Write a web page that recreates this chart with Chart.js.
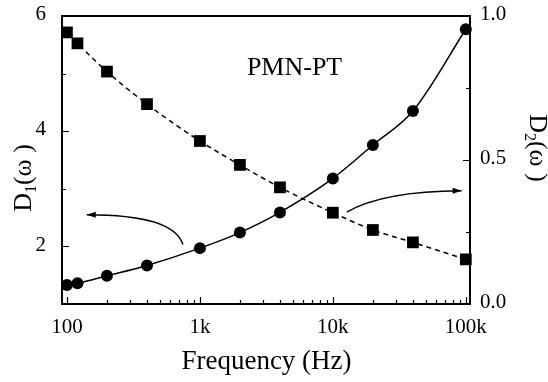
<!DOCTYPE html>
<html>
<head>
<meta charset="utf-8">
<script src="https://cdn.jsdelivr.net/npm/chart.js@4"></script>
<style>
html,body{margin:0;padding:0;background:#fff;}
#wrap{width:548px;height:382px;position:relative;}
</style>
</head>
<body>
<div id="wrap"><canvas id="c" width="548" height="382"></canvas></div>
<script>
// ---- data ----
const freq = [100, 120, 200, 400, 1000, 2000, 4000, 10000, 20000, 40000, 100000];
const d1 = [1.33, 1.36, 1.49, 1.67, 1.97, 2.24, 2.59, 3.18, 3.76, 4.35, 5.77];
const d2 = [0.943, 0.905, 0.807, 0.694, 0.566, 0.483, 0.405, 0.317, 0.257, 0.214, 0.155];
const xTickValues = [100, 1000, 10000, 100000];
const xTickLabels = ['100', '1k', '10k', '100k'];
const y1TickLabels = [2, 4, 6];
const y2TickLabels = [0.0, 0.5, 1.0];
const sampleLabel = 'PMN-PT';
// arrows in data coordinates: [start, control, end]
const arrowLeft = {axis: 'y', pts: [[745, 2.03], [640, 2.55], [141, 2.55]]};
const arrowRight = {axis: 'y2', pts: [[12700, 0.319], [24000, 0.392], [93000, 0.393]]};

const FONT = '"Liberation Serif", "Times New Roman", serif';

const minorX = [];
for (let e = 2; e <= 5; e++) {
  for (let m = 1; m <= 9; m++) {
    const v = m * Math.pow(10, e);
    if (v <= 100000) minorX.push(v);
  }
}

function drawArrow(ctx, chart, a) {
  const xs = chart.scales.x, ys = chart.scales[a.axis];
  const p = a.pts.map(q => [xs.getPixelForValue(q[0]), ys.getPixelForValue(q[1])]);
  ctx.save();
  ctx.strokeStyle = '#000';
  ctx.lineWidth = 1.4;
  ctx.beginPath();
  ctx.moveTo(p[0][0], p[0][1]);
  ctx.quadraticCurveTo(p[1][0], p[1][1], p[2][0], p[2][1]);
  ctx.stroke();
  const ang = Math.atan2(p[2][1] - p[1][1], p[2][0] - p[1][0]);
  const L = 9, W = 3;
  ctx.fillStyle = '#000';
  ctx.beginPath();
  ctx.moveTo(p[2][0], p[2][1]);
  ctx.lineTo(p[2][0] - L * Math.cos(ang) + W * Math.sin(ang), p[2][1] - L * Math.sin(ang) - W * Math.cos(ang));
  ctx.lineTo(p[2][0] - L * Math.cos(ang) - W * Math.sin(ang), p[2][1] - L * Math.sin(ang) + W * Math.cos(ang));
  ctx.closePath();
  ctx.fill();
  ctx.restore();
}

function drawSubTitle(ctx, x, y, rot, main, sub, rest) {
  ctx.save();
  ctx.translate(x, y);
  ctx.rotate(rot);
  ctx.fillStyle = '#000';
  ctx.textBaseline = 'alphabetic';
  const big = '26px ' + FONT, small = '16px ' + FONT;
  ctx.font = big; const w1 = ctx.measureText(main).width;
  const w3 = ctx.measureText(rest).width;
  ctx.font = small; const w2 = ctx.measureText(sub).width;
  const total = w1 + w2 + w3;
  let cx = -total / 2;
  const base = 9;
  ctx.font = big; ctx.textAlign = 'left';
  ctx.fillText(main, cx, base); cx += w1;
  ctx.font = small; ctx.fillText(sub, cx, base + 5); cx += w2;
  ctx.font = big; ctx.fillText(rest, cx, base);
  ctx.restore();
}

const decor = {
  id: 'decor',
  afterDraw(chart) {
    const ctx = chart.ctx, ca = chart.chartArea;
    const xs = chart.scales.x, y1 = chart.scales.y, y2 = chart.scales.y2;
    ctx.save();
    ctx.strokeStyle = '#000';
    ctx.lineWidth = 2;
    ctx.strokeRect(ca.left, ca.top, ca.right - ca.left, ca.bottom - ca.top);
    ctx.lineWidth = 1.2;
    ctx.beginPath();
    minorX.forEach(v => {
      const px = Math.round(xs.getPixelForValue(v)) + 0.5;
      const major = xTickValues.includes(v);
      ctx.moveTo(px, ca.bottom);
      ctx.lineTo(px, ca.bottom - (major ? 7 : 4));
    });
    for (let v = 2; v <= 5; v++) {
      const py = Math.round(y1.getPixelForValue(v)) + 0.5;
      const major = y1TickLabels.includes(v);
      ctx.moveTo(ca.left, py);
      ctx.lineTo(ca.left + (major ? 7 : 4), py);
    }
    [0.25, 0.5, 0.75].forEach(v => {
      const py = Math.round(y2.getPixelForValue(v)) + 0.5;
      const major = Math.abs(v - 0.5) < 1e-9;
      ctx.moveTo(ca.right, py);
      ctx.lineTo(ca.right - (major ? 7 : 4), py);
    });
    ctx.stroke();
    ctx.restore();

    drawArrow(ctx, chart, arrowLeft);
    drawArrow(ctx, chart, arrowRight);

    ctx.save();
    ctx.fillStyle = '#000';
    ctx.font = '26px ' + FONT;
    ctx.textAlign = 'center';
    ctx.textBaseline = 'middle';
    ctx.fillText(sampleLabel, ca.left + (ca.right - ca.left) * 0.57, ca.top + 52);
    ctx.restore();

    drawSubTitle(ctx, 22, 178, -Math.PI / 2, 'D', '1', '(\u03c9 )');
    drawSubTitle(ctx, 539, 148, Math.PI / 2, 'D', '2', '(\u03c9 )');
    ctx.save();
    ctx.fillStyle = '#000';
    ctx.font = '27px ' + FONT;
    ctx.textAlign = 'center';
    ctx.textBaseline = 'middle';
    ctx.fillText('Frequency (Hz)', (ca.left + ca.right) / 2 + 0.5, 362);
    ctx.restore();
  }
};

new Chart(document.getElementById('c'), {
  type: 'line',
  data: {
    datasets: [
      {
        label: 'D1',
        data: freq.map((f, i) => ({x: f, y: d1[i]})),
        yAxisID: 'y',
        borderColor: '#000',
        backgroundColor: '#000',
        borderWidth: 1.5,
        pointStyle: 'circle',
        pointRadius: 6,
        pointBorderWidth: 0,
        cubicInterpolationMode: 'monotone',
        clip: false
      },
      {
        label: 'D2',
        data: freq.map((f, i) => ({x: f, y: d2[i]})),
        yAxisID: 'y2',
        borderColor: '#000',
        backgroundColor: '#000',
        borderWidth: 1.5,
        borderDash: [5, 4],
        pointStyle: 'rect',
        pointRadius: 8.3,
        pointBorderWidth: 0,
        cubicInterpolationMode: 'monotone',
        clip: false
      }
    ]
  },
  options: {
    responsive: false,
    animation: false,
    events: [],
    layout: {padding: {top: 16, left: 0, right: 0, bottom: 0}},
    plugins: {legend: {display: false}, tooltip: {enabled: false}},
    scales: {
      x: {
        type: 'logarithmic',
        min: 91.8,
        max: 107500,
        afterBuildTicks(s) { s.ticks = xTickValues.map(v => ({value: v})); },
        afterFit(s) { s.height = 78; },
        ticks: {
          autoSkip: false,
          maxRotation: 0,
          padding: 3,
          color: '#000',
          font: {family: FONT, size: 21},
          callback(v) { const i = xTickValues.indexOf(v); return i >= 0 ? xTickLabels[i] : ''; }
        },
        grid: {display: false},
        border: {display: false}
      },
      y: {
        type: 'linear',
        position: 'left',
        min: 1,
        max: 6,
        afterBuildTicks(s) { s.ticks = y1TickLabels.map(v => ({value: v})); },
        afterFit(s) { s.width = 62; },
        ticks: {
          padding: 8,
          color: '#000',
          font: {family: FONT, size: 21, lineHeight: 0.12},
          callback(v) { return [String(v), '']; }
        },
        grid: {display: false},
        border: {display: false}
      },
      y2: {
        type: 'linear',
        position: 'right',
        min: 0,
        max: 1,
        afterBuildTicks(s) { s.ticks = y2TickLabels.map(v => ({value: v})); },
        afterFit(s) { s.width = 78; },
        ticks: {
          padding: 2,
          color: '#000',
          font: {family: FONT, size: 21, lineHeight: 0.12},
          callback(v) { return [Number(v).toFixed(1), '']; }
        },
        grid: {display: false},
        border: {display: false}
      }
    }
  },
  plugins: [decor]
});
</script>
</body>
</html>
